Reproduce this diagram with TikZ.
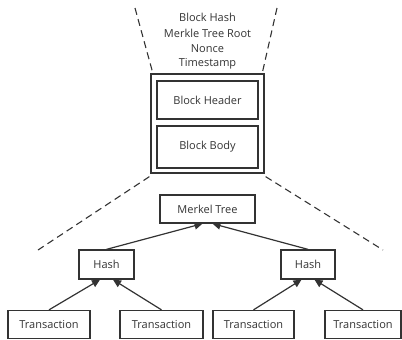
\documentclass[tikz,border=0pt]{standalone}
\usepackage{fontspec}
\setmainfont{Open Sans}
\usetikzlibrary{arrows.meta,calc}
\definecolor{ink}{HTML}{333333}
\tikzset{
  box/.style={draw=ink, line width=1.3pt, text=ink, inner sep=0pt, font=\fontsize{11}{13}\selectfont},
  link/.style={draw=ink, line width=1.2pt, -{Triangle[length=8pt,width=7.5pt]}},
  dash line/.style={draw=ink, line width=1.1pt, dash pattern=on 7pt off 4.5pt},
  lbl/.style={text=ink, inner sep=0pt, font=\fontsize{11}{13}\selectfont}
}
\begin{document}
\begin{tikzpicture}[x=1pt,y=-1pt]
\useasboundingbox (0,0) rectangle (402,340);
% block
\node[box, minimum width=113pt, minimum height=99pt] (outer) at (207.5,123.5) {};
\node[box, minimum width=101pt, minimum height=38pt] (header) at (207.5,100) {Block Header};
\node[box, minimum width=101pt, minimum height=42pt] (body) at (207.5,147) {Block Body};
% header fields
\node[lbl] (f1) at (207.5,17) {Block Hash};
\node[lbl] (f2) at (207.5,33) {Merkle Tree Root};
\node[lbl] (f3) at (207.5,49) {Nonce};
\node[lbl] (f4) at (207.5,64) {Timestamp};
% tree
\node[box, minimum width=95pt, minimum height=28pt] (merkle) at (207.5,209) {Merkel Tree};
\node[box, minimum width=55pt, minimum height=29pt] (hashL) at (106.5,264.5) {Hash};
\node[box, minimum width=54pt, minimum height=29pt] (hashR) at (308,264.5) {Hash};
\node[box, minimum width=82pt, minimum height=28pt] (t1) at (49,324.5) {Transaction};
\node[box, minimum width=83pt, minimum height=28pt] (t2) at (161.5,324.5) {Transaction};
\node[box, minimum width=81pt, minimum height=28pt] (t3) at (253.5,324.5) {Transaction};
\node[box, minimum width=76pt, minimum height=28pt] (t4) at (363,324.5) {Transaction};
% arrows
\draw[link] (t1.north) -- ($(hashL.south)+(-6.5,0)$);
\draw[link] (t2.north) -- ($(hashL.south)+(6.5,0)$);
\draw[link] (t3.north) -- ($(hashR.south)+(-6.5,0)$);
\draw[link] (t4.north) -- ($(hashR.south)+(6.5,0)$);
\draw[link] (hashL.north) -- ($(merkle.south)+(-5,0)$);
\draw[link] (hashR.north) -- ($(merkle.south)+(5,0)$);
% dashed zoom lines
\coordinate (tl) at (135,8);
\coordinate (tr) at (277,8);
\coordinate (bl) at (38,250);
\coordinate (br) at (383,250);
\draw[dash line] (tl) -- ($(outer.north west)+(2,-2)$);
\draw[dash line] (tr) -- ($(outer.north east)+(-2,-2)$);
\draw[dash line] ($(outer.south west)+(-1,3)$) -- (bl);
\draw[dash line] ($(outer.south east)+(1,3)$) -- (br);
\end{tikzpicture}
\end{document}
